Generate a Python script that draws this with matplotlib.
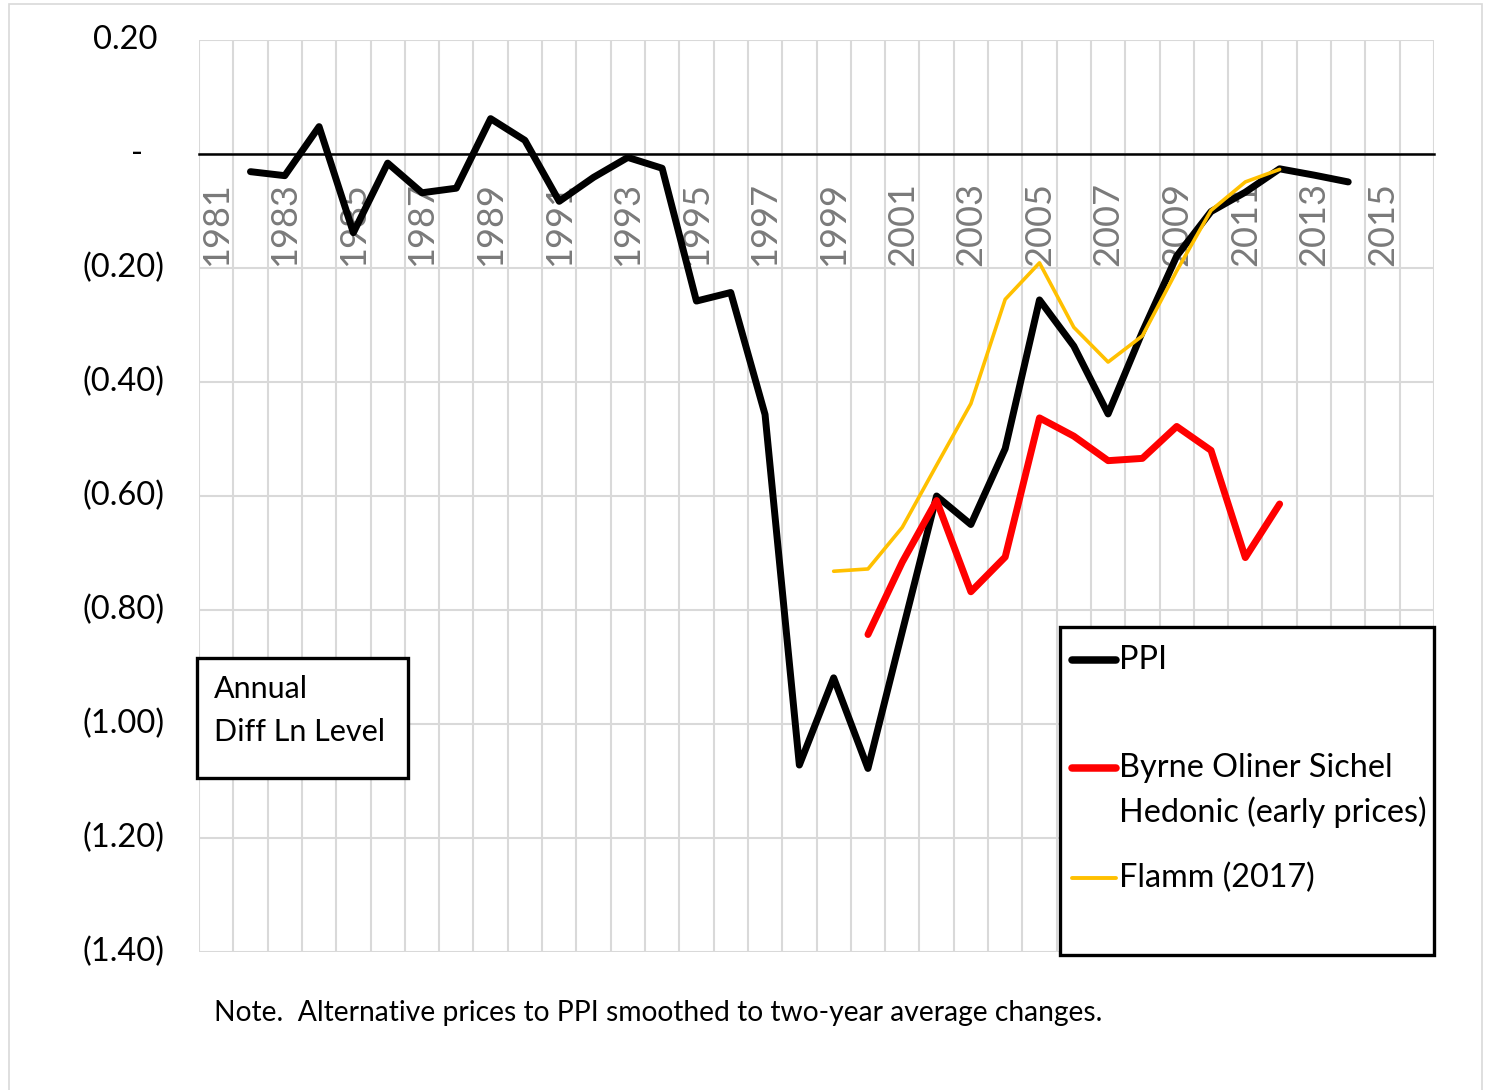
import numpy as np
import matplotlib
matplotlib.use('Agg')
import matplotlib.pyplot as plt
from matplotlib.patches import Rectangle
from matplotlib.lines import Line2D

plt.rcParams['font.family'] = ['Lato', 'DejaVu Sans']

# data (annual diff of ln level)
years = list(range(1981, 2017))
nan = np.nan
ppi = [nan, -0.031, -0.038, 0.048, -0.138, -0.016, -0.068, -0.060, 0.062, 0.024,
       -0.083, -0.041, -0.006, -0.025, -0.258, -0.243, -0.457, -1.072, -0.919, -1.078,
       -0.838, -0.600, -0.650, -0.517, -0.256, -0.337, -0.456, -0.312, -0.179, -0.101,
       -0.067, -0.026, -0.037, -0.049, nan, nan]
bos = [nan] * 19 + [-0.843, -0.716, -0.608, -0.768, -0.707, -0.463, -0.495, -0.538,
                    -0.534, -0.478, -0.520, -0.708, -0.614, nan, nan, nan, nan]
flamm = [nan] * 18 + [-0.732, -0.728, -0.655, -0.546, -0.438, -0.255, -0.191, -0.304,
                      -0.365, -0.319, -0.205, -0.099, -0.049, -0.027, nan, nan, nan, nan]
ytick_vals = [0.2, 0.0, -0.2, -0.4, -0.6, -0.8, -1.0, -1.2, -1.4]
ytick_text = ['0.20', '-', '(0.20)', '(0.40)', '(0.60)', '(0.80)', '(1.00)', '(1.20)', '(1.40)']

W, H = 1491, 1090
fig = plt.figure(figsize=(W / 100, H / 100), dpi=100)

def fx(px):
    return px / W

def fy(py):
    return 1 - py / H

# outer frame
fig.add_artist(Rectangle((fx(9), fy(1100)), fx(1482) - fx(9), fy(4) - fy(1100),
                         transform=fig.transFigure, fill=False, lw=1.2, ec='#d9d9d9'))

ax = fig.add_axes([fx(199), fy(952), fx(1434) - fx(199), fy(40) - fy(952)])
x = np.arange(len(years))

ax.plot(x, ppi, color='black', lw=5.0, solid_capstyle='round', zorder=3)
ax.plot(x, bos, color='#ff0000', lw=5.0, solid_capstyle='round', zorder=4)
ax.plot(x, flamm, color='#ffc000', lw=2.6, solid_capstyle='round', zorder=5)

ax.set_xlim(-0.5, len(years) - 0.5)
ax.set_ylim(-1.4, 0.2)

# category labels every two years, gridlines at category boundaries
ax.set_xticks(x[::2])
ax.set_xticklabels([str(y) for y in years[::2]])
ax.set_xticks(np.arange(len(years) + 1) - 0.5, minor=True)
ax.set_yticks(ytick_vals)
ax.set_yticklabels([])
ax.tick_params(axis='x', which='both', length=0)
ax.tick_params(axis='x', which='major', pad=20, labelrotation=90, labelsize=26,
               labelcolor='#7a7a7a')
ax.tick_params(axis='y', length=0)
ax.grid(which='minor', axis='x', color='#d9d9d9', lw=1.5)
ax.grid(which='major', axis='y', color='#d9d9d9', lw=1.5)
ax.set_axisbelow(True)

for side in ['left', 'right', 'top']:
    ax.spines[side].set_visible(False)
ax.spines['bottom'].set_position(('data', 0))
ax.spines['bottom'].set_color('black')
ax.spines['bottom'].set_linewidth(1.8)
ax.spines['bottom'].set_zorder(2.5)

# accounting-style y labels
for v, t in zip(ytick_vals, ytick_text):
    if t.startswith('('):
        off = -34
    elif t == '-':
        off = -56
    else:
        off = -42
    ax.annotate(t, xy=(0, v), xycoords=('axes fraction', 'data'), xytext=(off, 0),
                textcoords='offset pixels', ha='right', va='center', fontsize=23.5,
                annotation_clip=False)

# "Annual Diff Ln Level" box
fig.add_artist(Rectangle((fx(197), fy(778)), fx(408) - fx(197), fy(658) - fy(778),
                         transform=fig.transFigure, fill=True, fc='white', ec='black', lw=2.4))
fig.text(fx(214), fy(689), 'Annual', fontsize=22, va='center', ha='left')
fig.text(fx(214), fy(732), 'Diff Ln Level', fontsize=22, va='center', ha='left')

# legend
fig.add_artist(Rectangle((fx(1060), fy(955)), fx(1434) - fx(1060), fy(627) - fy(955),
                         transform=fig.transFigure, fill=True, fc='white', ec='black', lw=2.4))
legend_items = [('PPI', 'black', 5.4, 660), ('Byrne Oliner Sichel\nHedonic (early prices)', '#ff0000', 5.4, 768),
                ('Flamm (2017)', '#ffc000', 2.8, 878)]
for label, col, lw, py in legend_items:
    fig.add_artist(Line2D([fx(1072), fx(1116)], [fy(py), fy(py)], transform=fig.transFigure,
                          color=col, lw=lw, solid_capstyle='round'))
    fig.text(fx(1119), fy(py), label.split('\n')[0], fontsize=23.3, va='center', ha='left')
    if '\n' in label:
        fig.text(fx(1119), fy(py + 44), label.split('\n')[1], fontsize=23.3, va='center', ha='left')

fig.text(fx(214), fy(1013), 'Note.  Alternative prices to PPI smoothed to two-year average changes.',
         fontsize=20.3, va='center', ha='left')

fig.savefig('out.png', dpi=100)
